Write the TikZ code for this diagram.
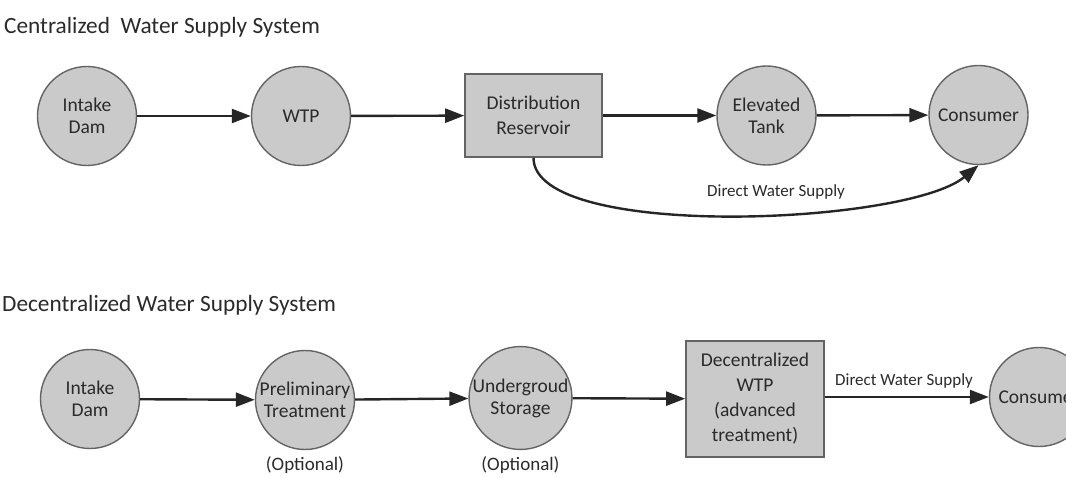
\documentclass[tikz,border=0pt]{standalone}
\usepackage{fontspec}
\setmainfont{Carlito}
\usetikzlibrary{arrows.meta}
\definecolor{nodefill}{RGB}{202,202,202}
\definecolor{nodeline}{RGB}{100,100,100}
\definecolor{txt}{RGB}{42,42,42}
\definecolor{arrcol}{RGB}{38,38,38}
\tikzset{
  circnode/.style={circle, draw=nodeline, line width=1.4pt, fill=nodefill, minimum size=99pt, inner sep=0pt, align=center, font=\fontsize{19.5}{22}\selectfont, text=txt},
  boxnode/.style={rectangle, draw=nodeline, line width=1.6pt, fill=nodefill, inner sep=0pt, align=center, font=\fontsize{19.5}{25}\selectfont, text=txt},
  flow/.style={draw=arrcol, line width=2.4pt, -{Triangle[length=19pt, width=14pt]}},
  titletext/.style={anchor=west, font=\fontsize{23.3}{26}\selectfont, text=txt, inner sep=0pt},
  smalltext/.style={font=\fontsize{17}{20}\selectfont, text=txt, inner sep=0pt},
  opttext/.style={font=\fontsize{19}{22}\selectfont, text=txt, inner sep=0pt},
}
\begin{document}
\begin{tikzpicture}[x=1pt, y=-1pt]
\useasboundingbox (0,0) rectangle (1066,478);
\clip (0,0) rectangle (1066,478);
% top
\node[titletext] (t1) at (4,27) {Centralized\ \ Water Supply System};
\node[circnode] (a1) at (87,116) {Intake\\Dam};
\node[circnode] (a2) at (301,116) {WTP};
\node[boxnode, minimum width=137pt, minimum height=83pt] (a3) at (533.5,115.5) {Distribution\\Reservoir};
\node[circnode] (a4) at (766.5,115.5) {Elevated\\Tank};
\node[circnode] (a5) at (978.5,115) {Consumer};
\draw[flow] (a1) -- (a2);
\draw[flow] (a2) -- (a3);
\draw[flow] (a3) -- (a4);
\draw[flow] (a4) -- (a5);
\draw[flow] (a3.south) .. controls +(0,83) and +(-72,60) .. (a5.south);
\node[smalltext] (l1) at (776,192) {Direct Water Supply};
% bottom
\node[titletext] (t2) at (2,305) {Decentralized Water Supply System};
\node[circnode] (b1) at (90,399) {Intake\\Dam};
\node[circnode] (b2) at (305,400) {Preliminary\\Treatment};
\node[circnode] (b3) at (520.5,398) {Undergroud\\Storage};
\node[boxnode, minimum width=138pt, minimum height=116pt] (b4) at (755,399) {Decentralized\\WTP\\(advanced\\treatment)};
\node[circnode] (b5) at (1039,397) {Consumer};
\node[opttext] (o1) at (305,465) {(Optional)};
\node[opttext] (o2) at (520.5,465) {(Optional)};
\draw[flow] (b1) -- (b2);
\draw[flow] (b2) -- (b3);
\draw[flow] (b3) -- (b4);
\draw[flow] (b4.east |- b5.west) -- (b5.west);
\node[smalltext] (l2) at (904,381) {Direct Water Supply};
\end{tikzpicture}
\end{document}
